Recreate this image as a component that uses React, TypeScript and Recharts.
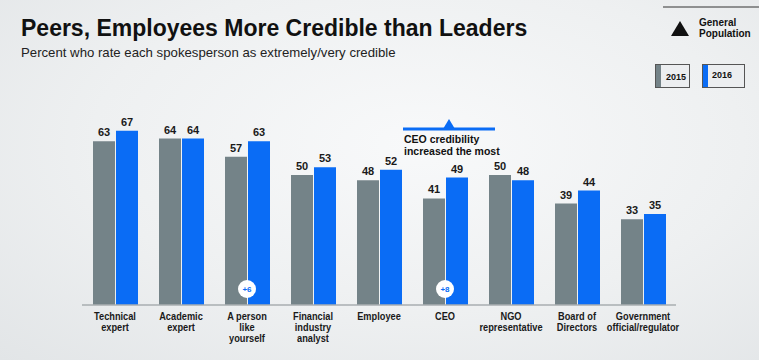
import React from 'react';
import { BarChart, Bar, XAxis, YAxis, LabelList, ReferenceDot } from 'recharts';

const categories = [
  'Technical\nexpert',
  'Academic\nexpert',
  'A person\nlike\nyourself',
  'Financial\nindustry\nanalyst',
  'Employee',
  'CEO',
  'NGO\nrepresentative',
  'Board of\nDirectors',
  'Government\nofficial/regulator',
];
const values2015 = [63, 64, 57, 50, 48, 41, 50, 39, 33];
const values2016 = [67, 64, 63, 53, 52, 49, 48, 44, 35];

// change badges shown near the base of the bars
const badgeCategories = ['A person\nlike\nyourself', 'CEO'];
const badgeLabels = ['+6', '+8'];

const GRAY = '#748388';
const BLUE = '#0a6cf5';
const FONT = '"Liberation Sans", Arial, sans-serif';

const data = categories.map((name, i) => ({
  name,
  y2015: values2015[i],
  y2016: values2016[i],
}));

// narrow bold labels: squeeze Liberation Sans horizontally
const CategoryTick = ({ x, y, payload }: any) => {
  const lines = String(payload.value).split('\n');
  return (
    <g transform={`translate(${x},${y}) scale(0.84,1)`}>
      <text x={0} y={7} textAnchor="middle" fill="#1a1a1a" fontFamily={FONT} fontSize={11} fontWeight="bold">
        {lines.map((line, i) => (
          <tspan key={i} x={0} dy={i === 0 ? 0 : 11}>
            {line}
          </tspan>
        ))}
      </text>
    </g>
  );
};

const badgeShape = (label: string) => (props: any) => {
  const { cx, cy } = props;
  return (
    <g>
      <circle cx={cx} cy={cy - 16} r={9} fill="#ffffff" />
      <text x={cx} y={cy - 13} textAnchor="middle" fill={BLUE} fontFamily={FONT} fontSize={8} fontWeight="bold">
        {label}
      </text>
    </g>
  );
};

const calloutShape = (props: any) => {
  const { cx, cy } = props;
  const ax = cx + 4;
  return (
    <g>
      <line x1={cx - 42} x2={cx + 50} y1={cy} y2={cy} stroke={BLUE} strokeWidth={3} />
      <polygon points={`${ax - 6},${cy} ${ax + 6},${cy} ${ax},${cy - 10}`} fill={BLUE} />
      <text x={cx - 41} y={cy + 14} fill="#111" fontFamily={FONT} fontSize={10.5} fontWeight="bold">
        CEO credibility
      </text>
      <text x={cx - 41} y={cy + 26} fill="#111" fontFamily={FONT} fontSize={10.5} fontWeight="bold">
        increased the most
      </text>
    </g>
  );
};

const App: React.FC = () => {
  return (
    <div
      style={{
        position: 'absolute',
        left: 0,
        top: 0,
        width: 759,
        height: 360,
        overflow: 'hidden',
        background: 'radial-gradient(ellipse at 55% 40%, #f8f9fa 0%, #eef0f1 55%, #e2e5e7 100%)',
      }}
    >
      <svg width={759} height={360} style={{ position: 'absolute', left: 0, top: 0 }}>
        <text x={21} y={36} fill="#111" fontFamily={FONT} fontSize={23} fontWeight="bold">
          Peers, Employees More Credible than Leaders
        </text>
        <text x={21} y={57} fill="#222" fontFamily={FONT} fontSize={13.2}>
          Percent who rate each spokesperson as extremely/very credible
        </text>

        <line x1={663} x2={759} y1={7} y2={7} stroke="#333" strokeWidth={1} />
        <polygon points="671,36 689,36 680,21" fill="#111" />
        <text x={699} y={26} fill="#111" fontFamily={FONT} fontSize={10} fontWeight="bold">General</text>
        <text x={699} y={37} fill="#111" fontFamily={FONT} fontSize={10} fontWeight="bold">Population</text>

        <rect x={655.5} y={64.5} width={34} height={23} fill="#eceef0" stroke="#555" strokeWidth={1} />
        <rect x={656} y={65} width={5} height={22} fill={GRAY} />
        <text x={676} y={80} textAnchor="middle" fill="#111" fontFamily={FONT} fontSize={9} fontWeight="bold">2015</text>
        <rect x={702.5} y={64.5} width={42} height={23} fill="#eceef0" stroke="#555" strokeWidth={1} />
        <rect x={703} y={65} width={5} height={22} fill={BLUE} />
        <text x={722} y={78} textAnchor="middle" fill="#111" fontFamily={FONT} fontSize={9} fontWeight="bold">2016</text>
      </svg>

      <div style={{ position: 'absolute', left: 0, top: 0 }}>
        <BarChart
          width={759}
          height={360}
          data={data}
          margin={{ top: 45, right: 83, left: 82, bottom: 0 }}
          barSize={22}
          barGap={1}
        >
          <XAxis
            dataKey="name"
            height={55}
            interval={0}
            tickLine={false}
            axisLine={{ stroke: '#a9aeb1', strokeWidth: 1.5 }}
            tick={<CategoryTick />}
          />
          <YAxis hide domain={[0, 100]} />
          <Bar dataKey="y2015" fill={GRAY} isAnimationActive={false}>
            <LabelList dataKey="y2015" position="top" offset={5} fill="#1a1a1a" fontFamily={FONT} fontSize={11} fontWeight="bold" />
          </Bar>
          <Bar dataKey="y2016" fill={BLUE} isAnimationActive={false}>
            <LabelList dataKey="y2016" position="top" offset={5} fill="#1a1a1a" fontFamily={FONT} fontSize={11} fontWeight="bold" />
          </Bar>
          {badgeCategories.map((c, i) => (
            <ReferenceDot key={c} x={c} y={0} r={9} shape={badgeShape(badgeLabels[i])} />
          ))}
          <ReferenceDot x="CEO" y={67.7} r={3} shape={calloutShape} />
        </BarChart>
      </div>
    </div>
  );
};

export default App;
